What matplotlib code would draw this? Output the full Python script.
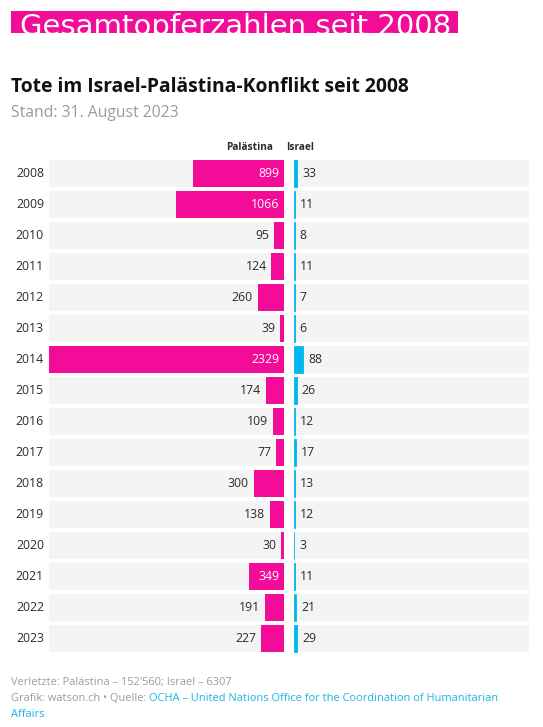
import matplotlib
matplotlib.use("Agg")
import matplotlib.pyplot as plt

years = ["2008", "2009", "2010", "2011", "2012", "2013", "2014", "2015",
         "2016", "2017", "2018", "2019", "2020", "2021", "2022", "2023"]
palestine = [899, 1066, 95, 124, 260, 39, 2329, 174, 109, 77, 300, 138, 30, 349, 191, 227]
israel = [33, 11, 8, 11, 7, 6, 88, 26, 12, 17, 13, 12, 3, 11, 21, 29]

PINK = "#f20c97"
BLUE = "#00b8ee"
BAND = "#f4f4f4"
DARK = "#2b2b2b"
GRAY = "#9b9b9b"
LINK = "#1ab4e6"

W, H = 543, 727
fig = plt.figure(figsize=(W / 100, H / 100), dpi=100)
fig.patch.set_facecolor("white")
plt.rcParams["font.family"] = ["Open Sans", "DejaVu Sans"]


def fx(px):
    return px / W


def fy(py):
    return 1 - py / H


# Header band
hax = fig.add_axes([fx(11), fy(33), fx(458 - 11), (33 - 11) / H])
hax.set_facecolor(PINK)
for s in hax.spines.values():
    s.set_visible(False)
hax.set_xticks([])
hax.set_yticks([])
hax.set_xlim(0, 1)
hax.set_ylim(0, 1)
hax.text(9 / 447, (33 - 35) / 22, "Gesamtopferzahlen seit 2008", color="white",
         fontsize=21, family="DejaVu Sans", ha="left", va="baseline", clip_on=True,
         transform=hax.transAxes)

fig.text(fx(11), fy(92), "Tote im Israel-Palästina-Konflikt seit 2008",
         fontsize=13.9, fontweight="bold", color="#111111", ha="left", va="baseline")
fig.text(fx(11), fy(117), "Stand: 31. August 2023", fontsize=11.3, color=GRAY,
         ha="left", va="baseline")

n = len(years)
pos = list(range(n))
vmax = max(palestine)
top_px, bot_px = 158, 654
ax_h = (bot_px - top_px) / H

axl = fig.add_axes([fx(49), fy(bot_px), fx(284 - 49), ax_h])
axr = fig.add_axes([fx(294), fy(bot_px), fx(529 - 294), ax_h])
bh = 27 / 31

for ax in (axl, axr):
    ax.barh(pos, [vmax] * n, height=bh, color=BAND, zorder=0)
    ax.set_ylim(n - 0.5, -0.5)
    for s in ax.spines.values():
        s.set_visible(False)
    ax.set_xticks([])
    ax.set_yticks([])
    ax.set_facecolor("none")

axl.set_xlim(vmax, 0)
axr.set_xlim(0, vmax)

axl.barh(pos, palestine, height=bh, color=PINK, zorder=2)
axr.barh(pos, israel, height=bh, color=BLUE, zorder=2, edgecolor=BLUE, linewidth=0.6)

for i, (p, q) in enumerate(zip(palestine, israel)):
    if p > 320:
        axl.annotate(str(p), (0, i), xytext=(-3.6, 0), textcoords="offset points",
                     ha="right", va="center", fontsize=8.8, color="white")
    else:
        axl.annotate(str(p), (p, i), xytext=(-3.6, 0), textcoords="offset points",
                     ha="right", va="center", fontsize=8.8, color=DARK)
    axr.annotate(str(q), (q, i), xytext=(3.6, 0), textcoords="offset points",
                 ha="left", va="center", fontsize=8.8, color=DARK)
    axl.annotate(years[i], (vmax, i), xytext=(-3.6, 0), textcoords="offset points",
                 ha="right", va="center", fontsize=8.8, color=DARK, annotation_clip=False)

fig.text(fx(273), fy(147), "Palästina", fontsize=7.3, fontweight="bold", color=DARK,
         ha="right", va="center")
fig.text(fx(286), fy(147), "Israel", fontsize=7.3, fontweight="bold", color=DARK,
         ha="left", va="center")

# Footer
fs = 7.95
fig.text(fx(11), fy(685), "Verletzte: Palästina – 152'560; Israel – 6307",
         fontsize=fs, color=GRAY, ha="left", va="baseline")
t1 = fig.text(fx(11), fy(701), "Grafik: watson.ch • Quelle: ", fontsize=fs, color=GRAY,
              ha="left", va="baseline")
fig.canvas.draw()
bb = t1.get_window_extent()
fig.text(bb.x1 / W, fy(701),
         "OCHA – United Nations Office for the Coordination of Humanitarian",
         fontsize=fs, color=LINK, ha="left", va="baseline")
fig.text(fx(11), fy(717), "Affairs", fontsize=fs, color=LINK, ha="left", va="baseline")

fig.savefig("out.png", dpi=100, facecolor="white")
